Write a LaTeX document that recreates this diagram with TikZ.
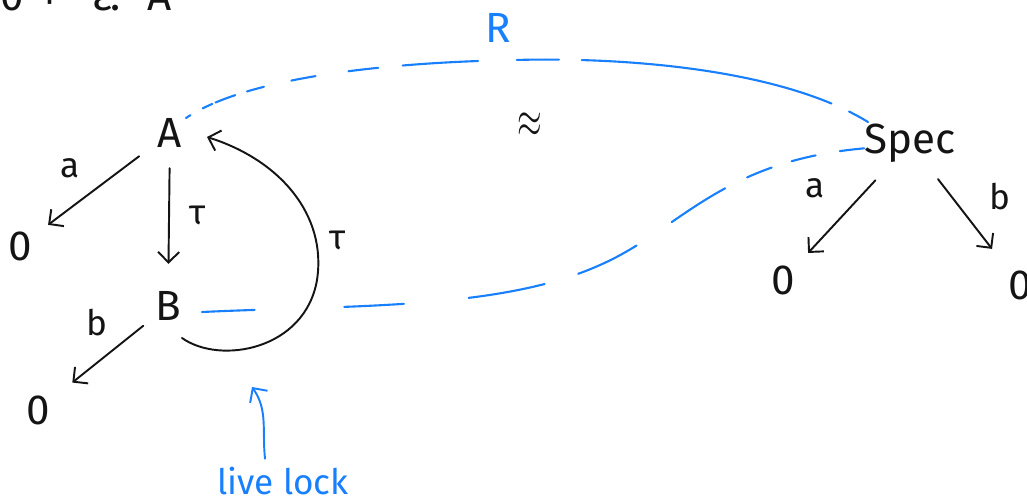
\documentclass[tikz,border=0pt]{standalone}
\usepackage{fontspec}
\usepackage{graphicx}
\setmainfont{Fira Sans}
\usetikzlibrary{arrows.meta,calc}
\definecolor{pen}{RGB}{20,20,20}
\definecolor{ink}{RGB}{24,128,255}
\tikzset{
  lbl/.style={text=pen, font=\fontsize{20}{20}\selectfont, inner sep=0pt},
  st/.style={text=pen, font=\fontsize{24}{24}\selectfont, inner sep=0pt},
  arr/.style={draw=pen, line width=1.1pt, line cap=round, -{Straight Barb[length=6pt,width=12pt,line width=1.1pt]}},
  rel/.style={draw=ink, line width=1.2pt, line cap=round},
  bluetxt/.style={text=ink, font=\fontsize{20}{20}\selectfont, inner sep=0pt},
}
\begin{document}
\begin{tikzpicture}[x=0.02cm,y=-0.02cm]
\useasboundingbox (0,0) rectangle (1027,501);
% partial top text
\node[st, anchor=base] (t0) at (12,10) {0};
\node[st, anchor=base] (t1) at (50,10) {+};
\node[st, anchor=base] (t2) at (102,10) {ε};
\node[st, anchor=base] (t3) at (116,10) {.};
\node[st, anchor=base] (t4) at (160,10) {A};
% states
\node[st] (A) at (170,133) {A};
\node[st] (O1) at (20,246) {0};
\node[st] (B) at (168,306) {B};
\node[st] (O2) at (38,410) {0};
\node[st] (Spec) at (910,143) {Spec};
\node[st] (O3) at (783,280) {0};
\node[st] (O4) at (1020,285) {0};
% transitions
\draw[arr, shorten <=22pt, shorten >=20pt] (A.center) -- (O1.center);
\node[lbl] (la) at (70,168) {a};
\draw[arr, shorten <=20pt, shorten >=24pt] (A.center) -- (B.center);
\node[lbl] (lt1) at (198,215) {τ};
\draw[arr, shorten <=18pt, shorten >=25pt] (B.center) -- (O2.center);
\node[lbl] (lb) at (97,323) {b};
\draw[arr] ($(B.center)+(14,32)$) .. controls (220,365) and (305,350) .. (317,280)
  .. controls (327,215) and (280,160) .. ($(A.center)+(37,4)$);
\node[lbl] (lt2) at (338,240) {τ};
\draw[arr, shorten <=29pt, shorten >=21pt] (Spec.center) -- (O3.center);
\node[lbl] (la2) at (815,188) {a};
\draw[arr, shorten <=26pt, shorten >=26pt] (Spec.center) -- (O4.center);
\node[lbl] (lb2) at (1000,197) {b};
% relation
\draw[rel, dash pattern=on 3pt off 8pt on 6pt off 2pt on 12pt off 7pt on 10pt off 16pt on 14pt off 19pt on 17pt off 14pt on 43pt off 22pt on 24pt off 13pt on 145pt off 11pt on 15pt off 40pt]
  ($(A.center)+(16,-15)$) .. controls (250,75) and (400,62) .. (515,60)
  .. controls (620,57) and (780,68) .. ($(Spec.center)+(-42,-21)$);
\draw[rel, dash pattern=on 30pt off 51pt on 34pt off 37pt on 44pt off 20pt on 37pt off 24pt on 36pt off 14pt on 15pt off 12pt on 14pt off 14pt on 14pt off 40pt]
  ($(B.center)+(34,6)$) .. controls (350,305) and (500,310) .. (600,265)
  .. controls (680,230) and (720,160) .. ($(Spec.center)+(-42,5)$);
\node[bluetxt, font=\fontsize{24}{24}\selectfont] (R) at (498,28) {R};
\node[text=pen, inner sep=0pt] (approx) at (530,125) {\resizebox{14pt}{14pt}{$\approx$}};
% live lock
\node[bluetxt] (LL) at (283,481) {live lock};
\draw[draw=ink, line width=1.1pt, line cap=round, -{Straight Barb[length=6pt,width=12pt,line width=1.1pt]}]
  ($(LL.north)+(-18,-8)$) .. controls (262,430) and (268,410) .. (252,387);
\end{tikzpicture}
\end{document}
